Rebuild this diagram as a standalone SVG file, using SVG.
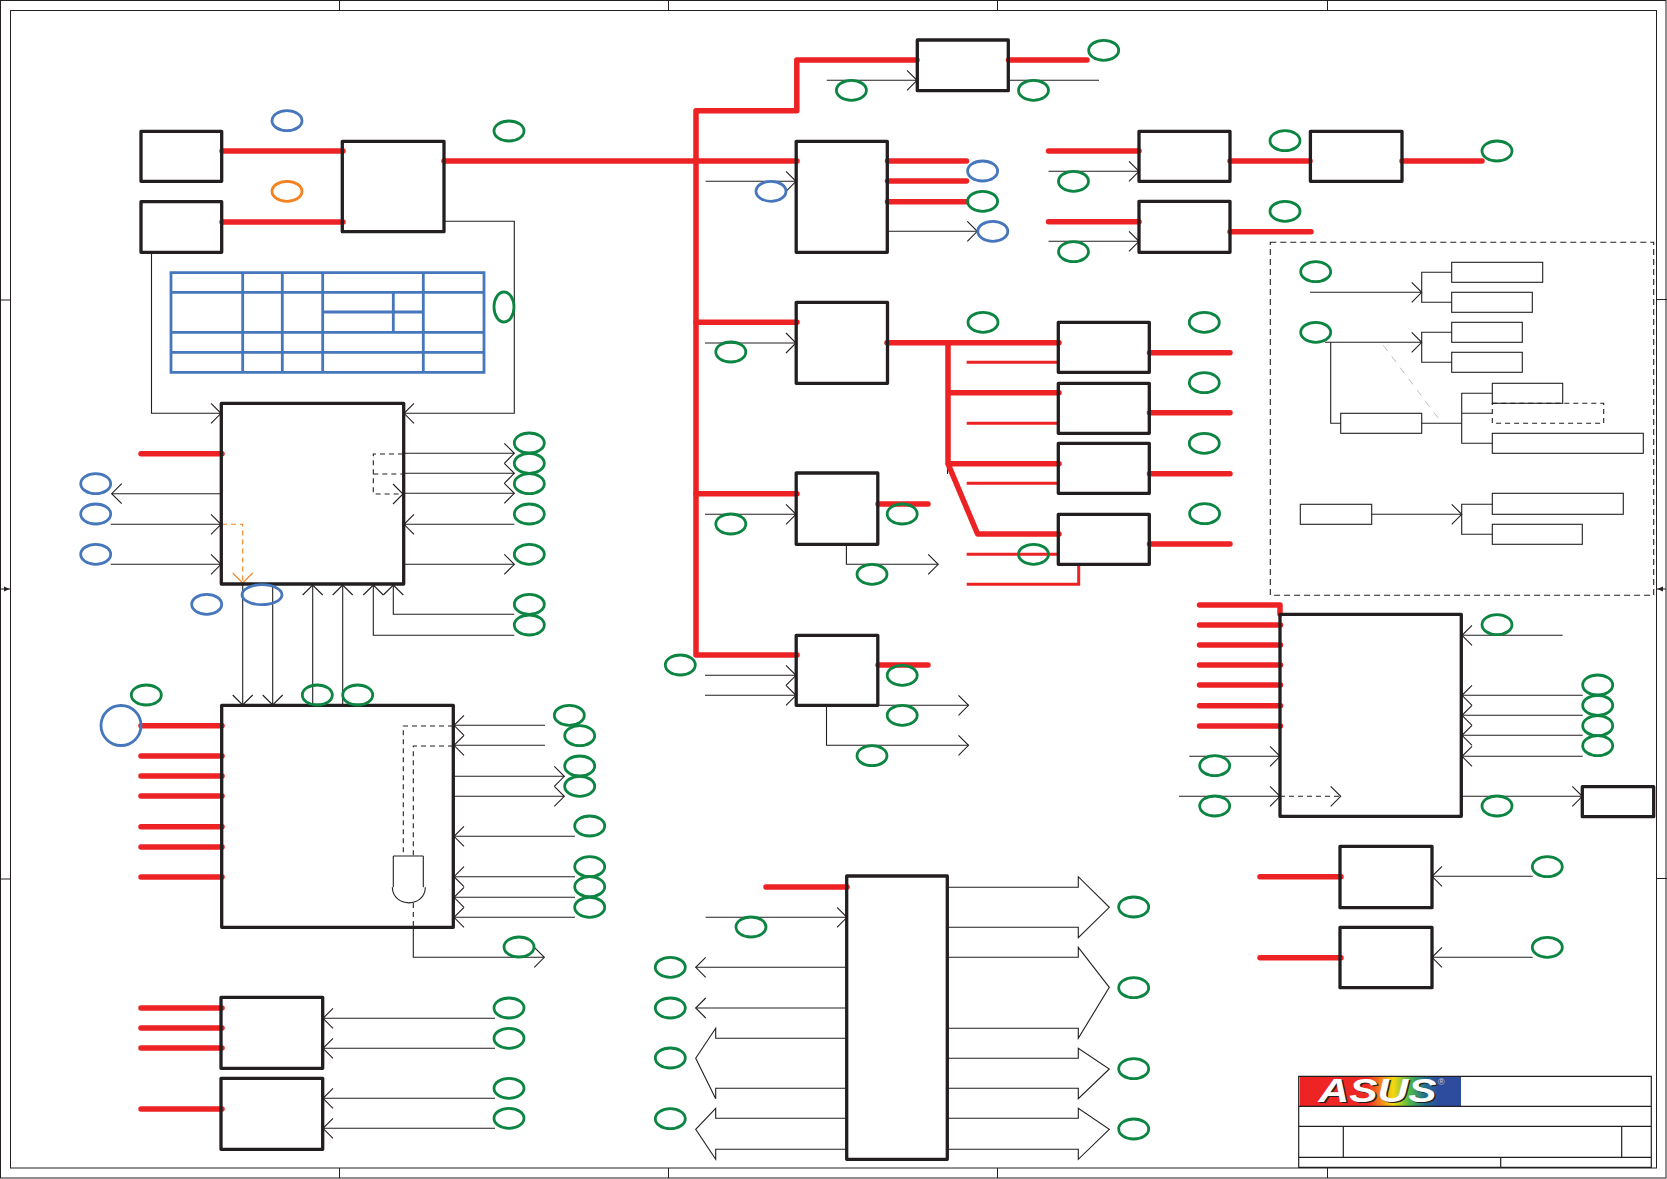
<svg xmlns="http://www.w3.org/2000/svg" width="1667" height="1179" viewBox="0 0 1667 1179">
<style>
.f{fill:none;stroke:#231f20;stroke-width:1}
.b{fill:none;stroke:#231f20;stroke-width:3.3;stroke-linejoin:round}
.s{fill:none;stroke:#231f20;stroke-width:1.1}
.t{fill:none;stroke:#231f20;stroke-width:1.1;marker-end:url(#o)}
.p{fill:none;stroke:#231f20;stroke-width:1.1}
.d{fill:none;stroke:#231f20;stroke-width:1.1;stroke-dasharray:5 4}
.r{fill:none;stroke:#ed2224;stroke-width:5.5;stroke-linecap:round;stroke-linejoin:round}
.rm{fill:none;stroke:#ed2224;stroke-width:3;stroke-linejoin:miter}
.g{fill:none;stroke:#0c8542;stroke-width:2.8}
.u{fill:none;stroke:#4677bc;stroke-width:2.8}
.y{fill:none;stroke:#f58220;stroke-width:2.8}
.tb{fill:none;stroke:#4677bc;stroke-width:2.8;stroke-linecap:square}
</style>
<defs>
<marker id="o" markerUnits="userSpaceOnUse" markerWidth="24" markerHeight="24" refX="11" refY="11" orient="auto" viewBox="0 0 24 24"><path d="M1 1L11 11L1 21" fill="none" stroke="#231f20" stroke-width="1.1"/></marker>
<marker id="oo" markerUnits="userSpaceOnUse" markerWidth="24" markerHeight="24" refX="11" refY="11" orient="auto" viewBox="0 0 24 24"><path d="M1 1L11 11L1 21" fill="none" stroke="#f58220" stroke-width="1.1"/></marker>
<linearGradient id="lg" x1="0" y1="0" x2="1" y2="0">
<stop offset="0" stop-color="#ed2224"/><stop offset="0.42" stop-color="#ee2a24"/><stop offset="0.5" stop-color="#f58220"/><stop offset="0.58" stop-color="#f6d90f"/><stop offset="0.68" stop-color="#4fb848"/><stop offset="0.78" stop-color="#1f6f8f"/><stop offset="0.86" stop-color="#2e4c9e"/><stop offset="1" stop-color="#2e4c9e"/>
</linearGradient>
</defs>

<g id="frame">
<rect class="f" x="0.5" y="0.5" width="1665.5" height="1177.5"/>
<rect class="f" x="10.5" y="10.5" width="1646" height="1157.5"/>
<path class="f" d="M339.5 0V10M668.5 0V10M997.5 0V10M1327.5 0V10M339.5 1168V1178M668.5 1168V1178M997.5 1168V1178M1327.5 1168V1178M0 300H10M0 879H10M1657 299.5H1667M1657 878.5H1667M0 589H10M1657 589H1666"/>
<path d="M9.5 589L4 586.5V591.5Z" fill="#231f20"/>
<path d="M1657.5 589L1663 586.5V591.5Z" fill="#231f20"/>
</g>

<g id="connectors">
<path class="s" d="M947.5 466V474"/>
<path class="r" d="M222 151H343M222 222H343M444 161H797M141 453.7H222M141 725.7H222M141 756H222M141 776H222M141 796H222M141 826.7H222M141 847H222M141 877H222"/>
<path class="r" d="M141 1008H222M141 1028H222M141 1048H222M141 1109H222M766 887H847"/>
<path class="r" d="M917 60H796.8V110.7H696V655H797M1008.5 60H1087"/>
<path class="r" d="M696 322.3H797M696 493.7H797M887.5 161H966.5M887.5 181H966.5M887.5 201.7H966.5M878 504H928M878 665H928"/>
<path class="r" d="M1048.5 151H1139M1230 161H1310M1402 161H1482M1048.5 221.7H1139M1230 231.7H1311"/>
<path class="r" d="M887 342.7H1059M948 342.7V463.7H1059M948 392.7H1059M948 463.7L977.6 534H1059M1149.5 352.7H1230M1149.5 412.7H1230M1149.5 473.7H1230M1149.5 544H1230"/>
<path class="rm" d="M966.7 362.3H1058M966.7 423.3H1058M966.7 483.3H1058M966.7 554.3H1058M966.7 584.3H1078.7V564"/>
<path class="r" d="M1199.5 605H1280V614M1199.5 625H1280.5M1199.5 645H1280.5M1199.5 665H1280.5M1199.5 685H1280.5M1199.5 705.7H1280.5M1199.5 726H1280.5M1260 876.7H1341M1260 957.7H1341"/>

<path class="t" d="M151.5 252V413.3H221"/>
<path class="t" d="M444 221.3H514.3V413.3H404"/>
<path class="t" d="M221 493.7H111.7"/>
<path class="t" d="M110.7 524.3H221"/>
<path class="t" d="M110.7 564.3H221"/>
<path class="t" d="M404 453.3H514.3"/>
<path class="t" d="M404 473.3H514.3"/>
<path class="t" d="M404 493.3H514.3"/>
<path class="t" d="M514.3 524.3H404"/>
<path class="t" d="M404 564.3H514.3"/>
<path d="M403 454H373.3V494H403" fill="none" stroke="#231f20" stroke-width="1.1" stroke-dasharray="5 4" marker-end="url(#o)"/>
<path class="d" d="M373.3 474H403"/>
<path d="M222 524.3H242.7V583" fill="none" stroke="#f58220" stroke-width="1.1" stroke-dasharray="5 4" marker-end="url(#oo)"/>
<path class="t" d="M242.7 584V705"/>
<path class="t" d="M272.7 584V705"/>
<path class="t" d="M312.7 705V585"/>
<path class="t" d="M342.7 705V585"/>
<path class="t" d="M514.3 635.3H373.3V585"/>
<path class="t" d="M514.3 614.3H393.3V585"/>

<path class="t" d="M545 725.3H454"/>
<path class="t" d="M545 745.3H454"/>
<path class="t" d="M454 776.3H564.3"/>
<path class="t" d="M454 796.3H564.3"/>
<path class="t" d="M575 836.3H454"/>
<path class="t" d="M575 876.7H454"/>
<path class="t" d="M575 897.3H454"/>
<path class="t" d="M575 917.3H454"/>
<path class="d" d="M453 726H403.3V856M453 746H413.3V856M413.3 903V928"/>
<path class="s" d="M393.3 856H423.3M393.3 856V887.3M423.3 856V887.3M392.3 887.3C393 908 425 908 425.3 887.3"/>
<path class="t" d="M413.3 928V957.3H544.3"/>

<path class="t" d="M495 1018.3H323"/>
<path class="t" d="M495 1048.3H323"/>
<path class="t" d="M495 1098.3H323"/>
<path class="t" d="M495 1128.3H323"/>

<path class="t" d="M705.7 917.3H847"/>
<path class="t" d="M847 967.3H695.7"/>
<path class="t" d="M847 1008H695.7"/>
<path class="p" d="M847 1038.3H715.7V1028.3L695.7 1058.3L715.7 1098.7V1088.3H847"/>
<path class="p" d="M847 1118.3H715.7V1108.3L695.7 1129.3L715.7 1159.3V1149.3H847"/>
<path class="p" d="M947 887.3H1078.3V876.7L1109.3 907.3L1078.3 937.7V927.3H947"/>
<path class="p" d="M947 957.3H1078.3V947.3L1109.3 987.3L1078.3 1038.3V1028.3H947"/>
<path class="p" d="M947 1058.3H1078.3V1048.3L1109.3 1069L1078.3 1098.7V1088.3H947"/>
<path class="p" d="M947 1118.3H1078.3V1108.3L1109.3 1129.3L1078.3 1159.3V1149.3H947"/>

<path class="t" d="M826.8 80.3H917"/>
<path class="s" d="M1008 80.3H1099"/>
<path class="t" d="M705.7 181.3H796"/>
<path class="t" d="M887 231.3H977.3"/>
<path class="t" d="M1048.5 171.3H1139"/>
<path class="t" d="M1048.5 241.3H1139"/>
<path class="t" d="M705 343H796"/>
<path class="t" d="M705 514.3H796"/>
<path class="t" d="M846.4 544V564.3H938.2"/>
<path class="t" d="M705 675.3H796"/>
<path class="t" d="M705 695.3H796"/>
<path class="t" d="M878 705.3H968.5"/>
<path class="t" d="M826.5 705V745.3H968.5"/>

<path class="t" d="M1189.3 756.3H1280"/>
<path class="t" d="M1179 796.3H1280"/>
<path d="M1280 796.3H1340.7" fill="none" stroke="#231f20" stroke-width="1.1" stroke-dasharray="5 4" marker-end="url(#o)"/>
<path class="t" d="M1562.7 635.3H1462"/>
<path class="t" d="M1582.7 695.3H1462"/>
<path class="t" d="M1582.7 715.3H1462"/>
<path class="t" d="M1582.7 735.3H1462"/>
<path class="t" d="M1582.7 756.3H1462"/>
<path class="t" d="M1461 796.3H1582.3"/>
<path class="t" d="M1532.7 876.3H1432"/>
<path class="t" d="M1532.7 957.3H1432"/>

<path class="t" d="M1310 292.3H1421.7"/>
<path class="s" d="M1451.7 272.3H1421.7V302.3H1451.7"/>
<path class="t" d="M1325 342.3H1421.7"/>
<path class="s" d="M1451.7 332.3H1421.7V362.3H1451.7"/>
<path class="s" d="M1330.7 342.3V423.3H1341M1421.7 423.3H1461.7M1492.3 393.3H1461.7V443.3H1492.3M1461.7 413.3H1492.3"/>
<path d="M1383.3 345.3L1441.7 422.7" fill="none" stroke="#bcbec0" stroke-dasharray="7 7"/>
<path class="t" d="M1371.7 514.3H1461.7"/>
<path class="s" d="M1492.3 504.3H1461.7V534.3H1492.3"/>
</g>

<g id="table">
<path class="tb" d="M171 272.7H484V372.3H171ZM171 292.3H484M171 332.3H484M171 352.3H484M242.7 272.7V372.3M282.3 272.7V372.3M322.7 272.7V372.3M423.3 272.7V372.3M322.7 312H423.3M393.3 292.3V332.3"/>
</g>

<g id="region">
<rect x="1270.3" y="242.3" width="383.4" height="353" fill="none" stroke="#231f20" stroke-width="1.1" stroke-dasharray="6 4"/>
<rect class="d" x="1492.3" y="403.3" width="111.4" height="20"/>
</g>

<g id="n1"><rect class="b" x="141" y="131.3" width="80.7" height="50"/></g>
<g id="n2"><rect class="b" x="141" y="201.7" width="80.7" height="50.6"/></g>
<g id="n3"><rect class="b" x="342.3" y="141.3" width="101.7" height="90.4"/></g>
<g id="n4"><rect class="b" x="221.3" y="403.3" width="182.4" height="180.7"/></g>
<g id="n5"><rect class="b" x="221.7" y="705.3" width="231.6" height="222"/></g>
<g id="n6"><rect class="b" x="221" y="997.3" width="101.7" height="71"/></g>
<g id="n7"><rect class="b" x="221" y="1078.3" width="101.7" height="71"/></g>
<g id="n8"><rect class="b" x="846.7" y="876" width="100.6" height="283.3"/></g>
<g id="n9"><rect class="b" x="917.3" y="40" width="91" height="50.7"/></g>
<g id="n10"><rect class="b" x="796.2" y="141.3" width="91.1" height="111"/></g>
<g id="n11"><rect class="b" x="1139" y="131.3" width="91" height="50"/></g>
<g id="n12"><rect class="b" x="1310.4" y="131.3" width="91.6" height="50"/></g>
<g id="n13"><rect class="b" x="1139" y="201.3" width="91" height="51"/></g>
<g id="n14"><rect class="b" x="796.2" y="302.3" width="91.3" height="81"/></g>
<g id="n15"><rect class="b" x="796.2" y="473" width="81.6" height="71.3"/></g>
<g id="n16"><rect class="b" x="796.2" y="635.3" width="81.6" height="70"/></g>
<g id="n17"><rect class="b" x="1058.3" y="322.3" width="91" height="50"/></g>
<g id="n18"><rect class="b" x="1058.3" y="383.3" width="91" height="50"/></g>
<g id="n19"><rect class="b" x="1058.3" y="443.3" width="91" height="50"/></g>
<g id="n20"><rect class="b" x="1058.3" y="514.3" width="91" height="50"/></g>
<g id="n21"><rect class="b" x="1280" y="614.3" width="181.3" height="202"/></g>
<g id="n22"><rect class="b" x="1582.3" y="786.7" width="71.4" height="30"/></g>
<g id="n23"><rect class="b" x="1340" y="846.3" width="92" height="61.4"/></g>
<g id="n24"><rect class="b" x="1340" y="927.3" width="92" height="60.4"/></g>
<g id="s1"><rect class="s" x="1451.7" y="262.3" width="91" height="20"/></g>
<g id="s2"><rect class="s" x="1451.7" y="292.3" width="80.6" height="20"/></g>
<g id="s3"><rect class="s" x="1451.7" y="322.3" width="70.6" height="20"/></g>
<g id="s4"><rect class="s" x="1451.7" y="352.3" width="70.6" height="20"/></g>
<g id="s5"><rect class="s" x="1340.7" y="413.3" width="81" height="20"/></g>
<g id="s6"><rect class="s" x="1492.3" y="383.3" width="70.4" height="20"/></g>
<g id="s7"><rect class="s" x="1492.3" y="433.3" width="151" height="20"/></g>
<g id="s8"><rect class="s" x="1300.3" y="504.3" width="71.4" height="20"/></g>
<g id="s9"><rect class="s" x="1492.3" y="493.3" width="131" height="21"/></g>
<g id="s10"><rect class="s" x="1492.3" y="524.3" width="90" height="20"/></g>

<g id="marks">
<ellipse class="u" cx="287" cy="120.7" rx="15" ry="10"/>
<ellipse class="y" cx="287" cy="191.3" rx="15" ry="10"/>
<ellipse class="g" cx="509" cy="131" rx="15" ry="10"/>
<ellipse class="g" cx="504" cy="307" rx="10" ry="15"/>
<ellipse class="u" cx="95.7" cy="483.7" rx="15" ry="10"/>
<ellipse class="u" cx="95.7" cy="514" rx="15" ry="10"/>
<ellipse class="u" cx="95.7" cy="554.3" rx="15" ry="10"/>
<ellipse class="u" cx="206.7" cy="604.3" rx="15" ry="10"/>
<ellipse class="u" cx="262" cy="594.7" rx="20" ry="10"/>
<circle class="u" cx="121" cy="725.5" r="20"/>
<ellipse class="g" cx="529.3" cy="443" rx="15" ry="10"/>
<ellipse class="g" cx="529.3" cy="463.3" rx="15" ry="10"/>
<ellipse class="g" cx="529.3" cy="483.7" rx="15" ry="10"/>
<ellipse class="g" cx="529.3" cy="514" rx="15" ry="10"/>
<ellipse class="g" cx="529.3" cy="554.3" rx="15" ry="10"/>
<ellipse class="g" cx="529.3" cy="604.3" rx="15" ry="10"/>
<ellipse class="g" cx="529.3" cy="625" rx="15" ry="10"/>
<ellipse class="g" cx="146.3" cy="695" rx="15" ry="10"/>
<ellipse class="g" cx="317.3" cy="695" rx="15" ry="10"/>
<ellipse class="g" cx="357.7" cy="695" rx="15" ry="10"/>
<ellipse class="g" cx="569.3" cy="715.3" rx="15" ry="10"/>
<ellipse class="g" cx="579.7" cy="735.7" rx="15" ry="10"/>
<ellipse class="g" cx="579.7" cy="766" rx="15" ry="10"/>
<ellipse class="g" cx="579.7" cy="786.3" rx="15" ry="10"/>
<ellipse class="g" cx="589.7" cy="826" rx="15" ry="10"/>
<ellipse class="g" cx="589.7" cy="866.7" rx="15" ry="10"/>
<ellipse class="g" cx="589.7" cy="886.7" rx="15" ry="10"/>
<ellipse class="g" cx="589.7" cy="907.3" rx="15" ry="10"/>
<ellipse class="g" cx="519" cy="947" rx="15" ry="10"/>
<ellipse class="g" cx="509" cy="1008" rx="15" ry="10"/>
<ellipse class="g" cx="509" cy="1038.3" rx="15" ry="10"/>
<ellipse class="g" cx="509" cy="1088.3" rx="15" ry="10"/>
<ellipse class="g" cx="509" cy="1118.3" rx="15" ry="10"/>
<ellipse class="g" cx="751" cy="927" rx="15" ry="10"/>
<ellipse class="g" cx="670.3" cy="967.3" rx="15" ry="10"/>
<ellipse class="g" cx="670.3" cy="1008" rx="15" ry="10"/>
<ellipse class="g" cx="670.3" cy="1058" rx="15" ry="10"/>
<ellipse class="g" cx="670.3" cy="1118.7" rx="15" ry="10"/>
<ellipse class="g" cx="1133.7" cy="907" rx="15" ry="10"/>
<ellipse class="g" cx="1133.7" cy="987.7" rx="15" ry="10"/>
<ellipse class="g" cx="1133.7" cy="1068.7" rx="15" ry="10"/>
<ellipse class="g" cx="1133.7" cy="1129" rx="15" ry="10"/>
<ellipse class="g" cx="730.8" cy="352" rx="15" ry="10"/>
<ellipse class="g" cx="730.8" cy="524" rx="15" ry="10"/>
<ellipse class="g" cx="902.2" cy="514" rx="15" ry="10"/>
<ellipse class="g" cx="872" cy="574.3" rx="15" ry="10"/>
<ellipse class="g" cx="680.3" cy="665" rx="15" ry="10"/>
<ellipse class="g" cx="902.2" cy="675.3" rx="15" ry="10"/>
<ellipse class="g" cx="902.2" cy="715.3" rx="15" ry="10"/>
<ellipse class="g" cx="872" cy="755.7" rx="15" ry="10"/>
<ellipse class="g" cx="851.4" cy="90.3" rx="15" ry="10"/>
<ellipse class="g" cx="1033.5" cy="90.3" rx="15" ry="10"/>
<ellipse class="g" cx="1103.7" cy="50.3" rx="15" ry="10"/>
<ellipse class="u" cx="771" cy="191.3" rx="15" ry="10"/>
<ellipse class="u" cx="982.6" cy="171" rx="15" ry="10"/>
<ellipse class="g" cx="982.6" cy="201.3" rx="15" ry="10"/>
<ellipse class="u" cx="992.8" cy="231.3" rx="15" ry="10"/>
<ellipse class="g" cx="1073.5" cy="181.3" rx="15" ry="10"/>
<ellipse class="g" cx="1073.5" cy="251.7" rx="15" ry="10"/>
<ellipse class="g" cx="1285" cy="140.7" rx="15" ry="10"/>
<ellipse class="g" cx="1285" cy="211.3" rx="15" ry="10"/>
<ellipse class="g" cx="1497" cy="151" rx="15" ry="10"/>
<ellipse class="g" cx="983" cy="322.3" rx="15" ry="10"/>
<ellipse class="g" cx="1204.3" cy="322.3" rx="15" ry="10"/>
<ellipse class="g" cx="1204.3" cy="382.7" rx="15" ry="10"/>
<ellipse class="g" cx="1204.3" cy="443.3" rx="15" ry="10"/>
<ellipse class="g" cx="1204.6" cy="513.7" rx="15" ry="10"/>
<ellipse class="g" cx="1033.5" cy="554.3" rx="15" ry="10"/>
<ellipse class="g" cx="1315.7" cy="271.7" rx="15" ry="10"/>
<ellipse class="g" cx="1315.7" cy="332.3" rx="15" ry="10"/>
<ellipse class="g" cx="1214.7" cy="765.7" rx="15" ry="10"/>
<ellipse class="g" cx="1214.7" cy="806" rx="15" ry="10"/>
<ellipse class="g" cx="1497" cy="624.7" rx="15" ry="10"/>
<ellipse class="g" cx="1497" cy="806" rx="15" ry="10"/>
<ellipse class="g" cx="1597.7" cy="685" rx="15" ry="10"/>
<ellipse class="g" cx="1597.7" cy="705.3" rx="15" ry="10"/>
<ellipse class="g" cx="1597.7" cy="725.7" rx="15" ry="10"/>
<ellipse class="g" cx="1597.7" cy="745.7" rx="15" ry="10"/>
<ellipse class="g" cx="1547.3" cy="866.7" rx="15" ry="10"/>
<ellipse class="g" cx="1547.3" cy="947.3" rx="15" ry="10"/>
</g>

<g id="titleblock">
<rect x="1299.7" y="1077" width="161.3" height="29" fill="url(#lg)"/>
<text x="1320" y="1103" font-family="'Liberation Sans',sans-serif" font-weight="bold" font-style="italic" font-size="33" textLength="118" lengthAdjust="spacingAndGlyphs" fill="#231f20">ASUS</text>
<text x="1318.5" y="1101.5" font-family="'Liberation Sans',sans-serif" font-weight="bold" font-style="italic" font-size="33" textLength="118" lengthAdjust="spacingAndGlyphs" fill="#fff">ASUS</text>
<text x="1438" y="1085" font-family="'Liberation Sans',sans-serif" font-size="9" fill="#d1d3d4">®</text>
<path d="M1298.7 1076.3H1651.3V1167.3H1298.7ZM1298.7 1106.3H1651.3M1298.7 1126.3H1651.3M1298.7 1157.3H1651.3M1343.3 1126.3V1157.3M1621.7 1126.3V1157.3M1500.7 1157.3V1167.3" fill="none" stroke="#231f20" stroke-width="1.2"/>
</g>
</svg>
